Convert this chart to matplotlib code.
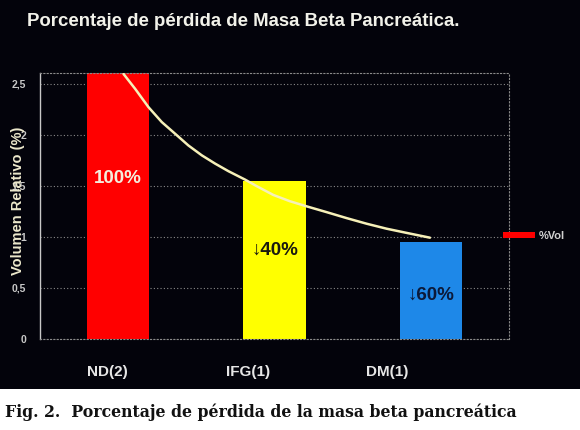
import matplotlib
matplotlib.use("Agg")
import matplotlib.pyplot as plt
from matplotlib.patches import Rectangle

categories = ["ND(2)", "IFG(1)", "DM(1)"]
values = [2.62, 1.55, 0.95]
bar_colors = ["#ff0000", "#ffff00", "#1e88e8"]
bar_texts = ["100%", "\u219340%", "\u219360%"]
bar_text_y = [1.57, 0.87, 0.43]
bar_text_colors = ["#f4eede", "#1a1a10", "#0c1a3a"]
label_pos = [-0.07, 0.83, 1.72]

# trend curve (x in category units, y in axis units)
curve_x = [0.034, 0.109, 0.194, 0.279, 0.364, 0.449, 0.535, 0.620, 0.705, 0.812,
           0.886, 0.992, 1.099, 1.206, 1.334, 1.461, 1.589, 1.717, 1.845, 1.994]
curve_y = [2.598, 2.451, 2.272, 2.126, 2.012, 1.897, 1.800, 1.719, 1.645, 1.562,
           1.498, 1.412, 1.350, 1.300, 1.243, 1.185, 1.130, 1.081, 1.040, 0.993]

yticks = [0, 0.5, 1, 1.5, 2, 2.5]
ytick_labels = ["0", "0,5", "1", "1,5", "2", "2,5"]

W, H = 580, 430
BG = "#03030b"
fig = plt.figure(figsize=(W / 100, H / 100), dpi=100, facecolor="white")
fig.patches.append(Rectangle((0, 41 / H), 1, 1 - 41 / H, transform=fig.transFigure,
                             facecolor=BG, edgecolor="none", zorder=-10))

ax = fig.add_axes([40 / W, 91 / H, 469 / W, 266 / H])
ax.set_zorder(1)
ax.set_facecolor(BG)
font = "Liberation Sans"

bars = ax.bar(range(len(categories)), values, width=0.4, color=bar_colors,
              label="%Vol", zorder=2)
ax.plot(curve_x, curve_y, color="#f6f0b8", lw=1.8, zorder=3, solid_capstyle="round",
        solid_joinstyle="round")

for i, (t, ty, tc) in enumerate(zip(bar_texts, bar_text_y, bar_text_colors)):
    ax.text(i, ty, t, ha="center", va="center", fontsize=13.5, fontweight="bold",
            color=tc, family=[font, "DejaVu Sans"], zorder=4)

ax.set_xlim(-0.5, 2.5)
ax.set_ylim(0, 2.607)
ax.set_yticks(yticks)
ax.set_yticklabels(ytick_labels, fontsize=7.5, fontweight="bold", color="#c8c8c8", family=font)
ax.tick_params(axis="y", length=0, pad=10)
ax.set_xticks(label_pos)
ax.set_xticklabels(categories, fontsize=11, fontweight="bold", color="#e6e6e6", family=font)
ax.tick_params(axis="x", length=0, pad=19)

ax.grid(axis="y", color="#8a8a8a", lw=0.8, linestyle=(0, (1, 2)), zorder=1)
for s in ["top", "right", "bottom"]:
    ax.spines[s].set_color("#8a8a8a")
    ax.spines[s].set_linestyle((0, (1, 2)))
    ax.spines[s].set_linewidth(0.8)
ax.spines["left"].set_color("#c8c8c8")
ax.spines["left"].set_linewidth(1.0)

ax.set_ylabel("Volumen Relativo (%)", fontsize=10.5, fontweight="bold", color="#ece8cc",
              family=font)
ax.yaxis.set_label_coords(-0.032, 0.52)

fig.legend(handles=[bars], labels=["%Vol"], loc="center left",
           bbox_to_anchor=(503 / W, 1 - 236 / H), frameon=False, borderpad=0,
           borderaxespad=0, handlelength=2.9, handleheight=0.55, handletextpad=0.35,
           prop={"family": font, "size": 8, "weight": "bold"}, labelcolor="#d0d0d0")

fig.text(27 / W, 1 - 22 / H, "Porcentaje de pérdida de Masa Beta Pancreática.",
         ha="left", va="center", fontsize=13.4, fontweight="bold", color="#f2f2ea",
         family=font)

fig.text(5 / W, 1 - 412 / H, "Fig. 2.  Porcentaje de pérdida de la masa beta pancreática",
         ha="left", va="center", fontsize=11.3, fontweight="bold", color="#111111",
         family="DejaVu Serif")

fig.savefig("out.png", dpi=100, facecolor="white")
